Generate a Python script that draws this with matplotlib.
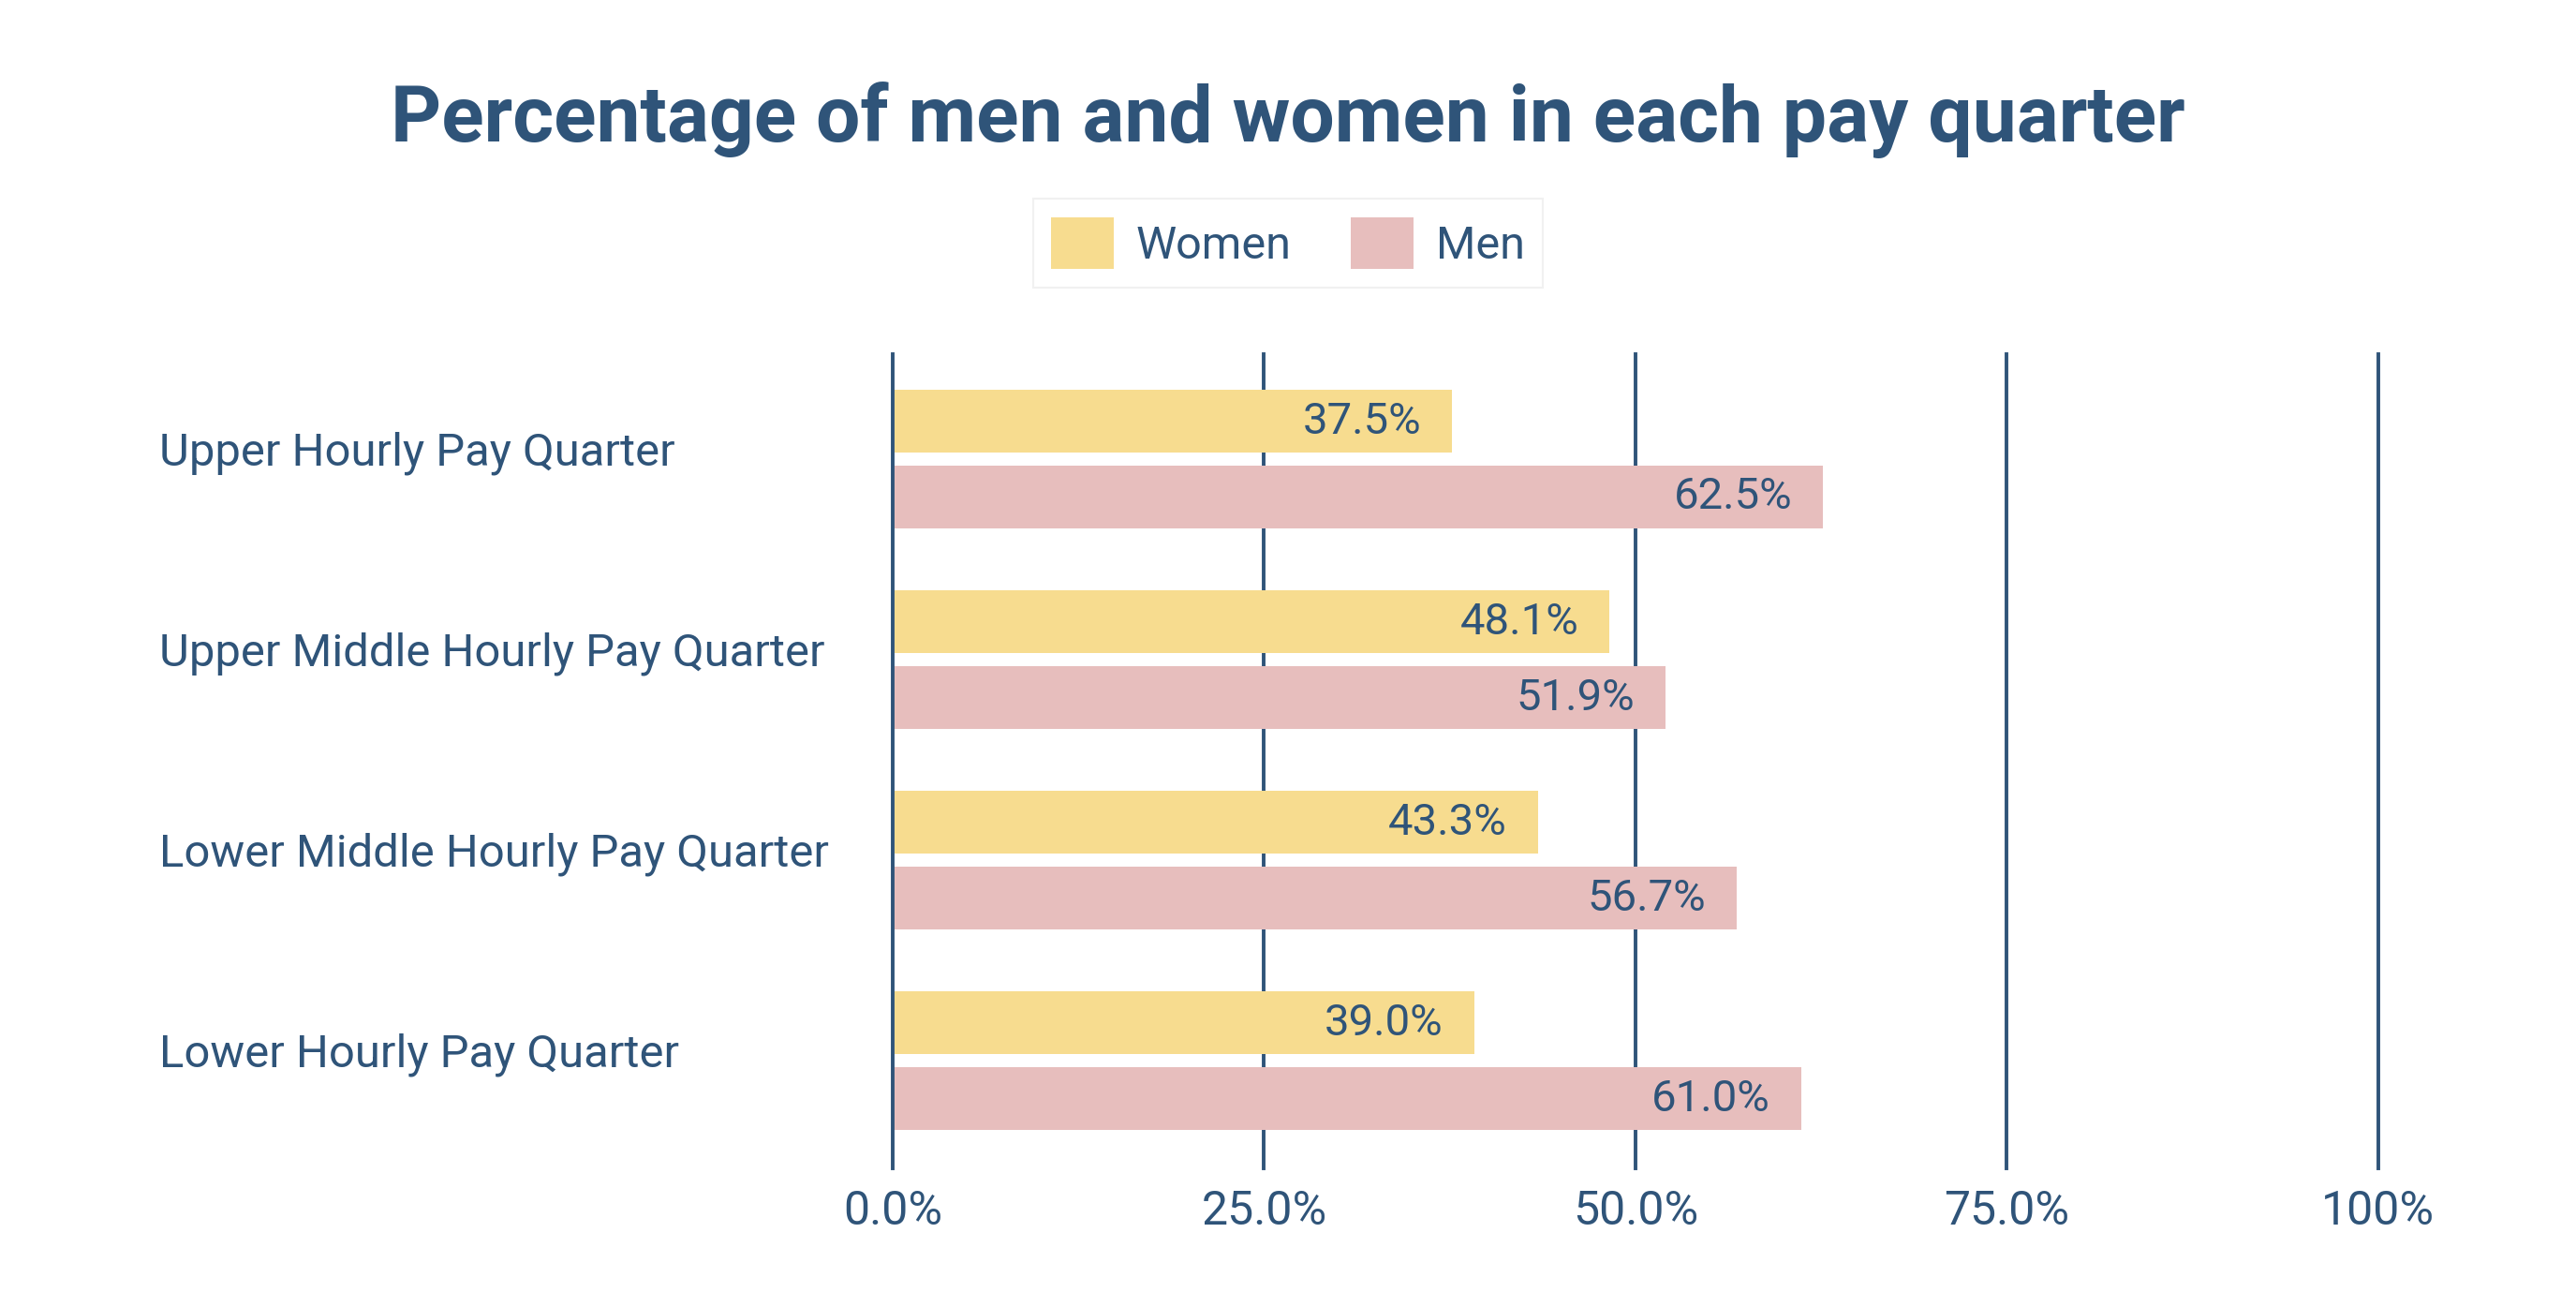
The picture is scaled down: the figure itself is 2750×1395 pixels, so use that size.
import matplotlib
matplotlib.use("Agg")
import matplotlib.pyplot as plt
import matplotlib.transforms as mtransforms

quarters = ["Upper Hourly Pay Quarter", "Upper Middle Hourly Pay Quarter",
            "Lower Middle Hourly Pay Quarter", "Lower Hourly Pay Quarter"]
women = [37.5, 48.1, 43.3, 39.0]
men = [62.5, 51.9, 56.7, 61.0]
ticks = [0, 25, 50, 75, 100]
tick_labels = ["0.0%", "25.0%", "50.0%", "75.0%", "100%"]

plt.rcParams['font.family'] = ['Roboto', 'DejaVu Sans']

navy = "#2f5479"
c_women = "#f7dc8f"
c_men = "#e7bebd"

fig = plt.figure(figsize=(27.5, 13.95), dpi=100)
ax = fig.add_axes([0.3465, 0.106, 0.5767, 0.623])

pos = list(range(len(quarters)))
h = 0.312
off = 0.189
ax.barh([p - off for p in pos], women, height=h, left=0.15, color=c_women, zorder=3, label="Women")
ax.barh([p + off for p in pos], men, height=h, left=0.15, color=c_men, zorder=3, label="Men")

# vertical grid lines, bars sit on top of them (except the zero line)
for t in ticks:
    ax.axvline(t, color=navy, lw=2.8, zorder=4 if t == 0 else 1, clip_on=False)

for p, w, m in zip(pos, women, men):
    ax.annotate(f"{w:.1f}%", (w, p - off), xytext=(-22, 0), textcoords="offset points",
                ha="right", va="center", color=navy, fontsize=34, zorder=5)
    ax.annotate(f"{m:.1f}%", (m, p + off), xytext=(-22, 0), textcoords="offset points",
                ha="right", va="center", color=navy, fontsize=34, zorder=5)

ax.set_xlim(0, 100)
ax.set_ylim(3.537, -0.523)
ax.set_xticks(ticks)
ax.set_xticklabels(tick_labels, color=navy, fontsize=36)
ax.tick_params(axis="x", length=0, pad=16)
ax.set_yticks([])
for s in ax.spines.values():
    s.set_visible(False)

trans = mtransforms.blended_transform_factory(fig.transFigure, ax.transData)
for p, q in zip(pos, quarters):
    ax.text(0.062, p - 0.03, q, transform=trans, ha="left", va="center",
            color=navy, fontsize=35.3)

fig.text(0.5, 0.908, "Percentage of men and women in each pay quarter",
         ha="center", va="center", color=navy, fontsize=60.5, fontweight="bold")

leg = fig.legend(loc="center", bbox_to_anchor=(0.5, 0.814), ncol=2, fontsize=35,
                 frameon=True, fancybox=False, edgecolor="#eeeeee", handlelength=1.37,
                 handleheight=1.37, columnspacing=1.3, handletextpad=0.5, borderpad=0.4)
leg.get_frame().set_linewidth(1.5)
for t in leg.get_texts():
    t.set_color(navy)

fig.savefig("out.png", dpi=100, facecolor="white")
